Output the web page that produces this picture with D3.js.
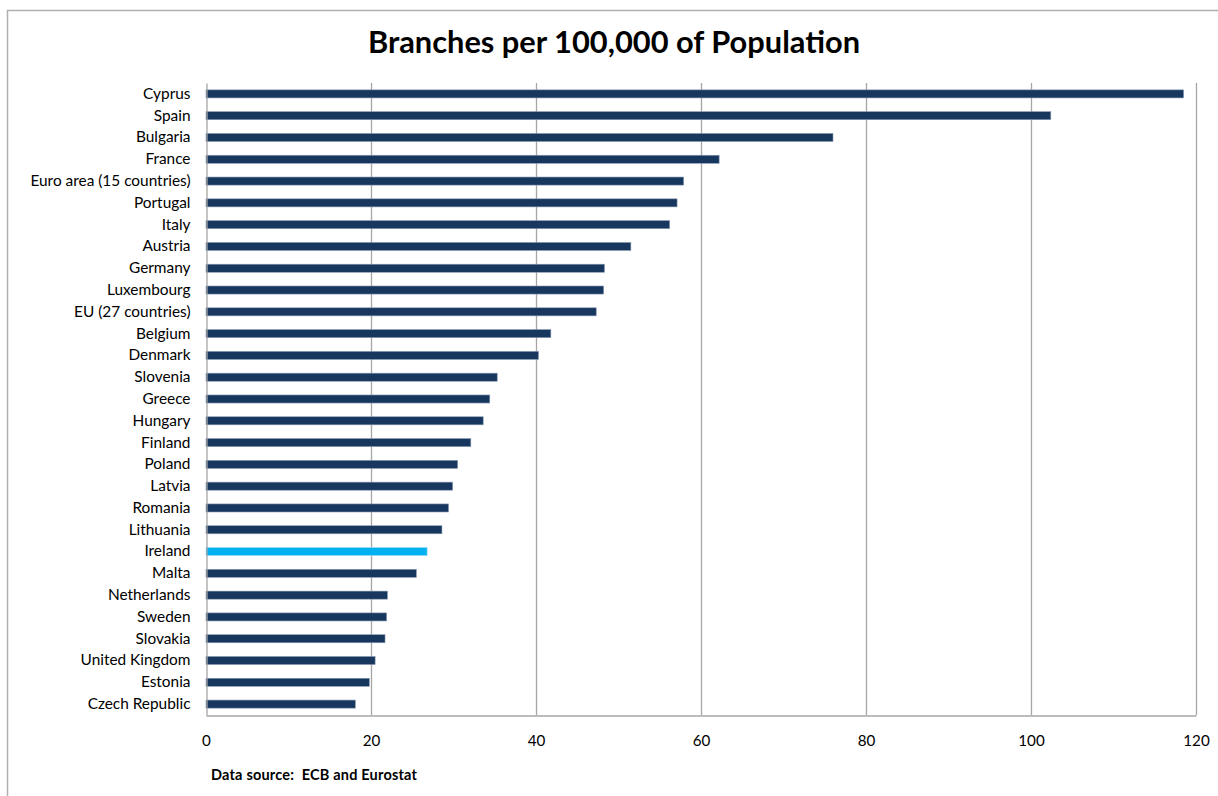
<!DOCTYPE html>
<html>
<head>
<meta charset="utf-8">
<script src="https://cdn.jsdelivr.net/npm/d3@7"></script>
<style>
  html, body { margin: 0; padding: 0; background: #fff; }
  svg { display: block; }
  text { font-family: Lato, "Open Sans", sans-serif; fill: #000; }
</style>
</head>
<body>
<svg id="chart" width="1218" height="796"></svg>
<script>
// Bank branches per 100,000 inhabitants, sorted high to low
const countries = [
  "Cyprus", "Spain", "Bulgaria", "France", "Euro area (15 countries)", "Portugal",
  "Italy", "Austria", "Germany", "Luxembourg", "EU (27 countries)", "Belgium",
  "Denmark", "Slovenia", "Greece", "Hungary", "Finland", "Poland", "Latvia",
  "Romania", "Lithuania", "Ireland", "Malta", "Netherlands", "Sweden",
  "Slovakia", "United Kingdom", "Estonia", "Czech Republic"
];
const branches = [
  118.5, 102.4, 76.0, 62.2, 57.9, 57.1,
  56.2, 51.5, 48.3, 48.2, 47.3, 41.8,
  40.3, 35.3, 34.4, 33.6, 32.1, 30.5, 29.9,
  29.4, 28.6, 26.8, 25.5, 22.0, 21.9,
  21.7, 20.5, 19.8, 18.1
];
const xTicks = [0, 20, 40, 60, 80, 100, 120];
const highlighted = "Ireland";

const titleText = "Branches per 100,000 of Population";
const sourceText = "Data source:  ECB and Eurostat";

const svg = d3.select("#chart");
const plot = { left: 206, right: 1196, top: 83, bottom: 715 };

// outer chart frame
svg.append("path")
  .attr("d", "M7.5,796 V10.5 H1218")
  .attr("fill", "none")
  .attr("stroke", "#b0b0b0")
  .attr("stroke-width", 1.5);

const x = d3.scaleLinear().domain([0, 120]).range([plot.left, plot.right]);
const y = d3.scaleBand().domain(countries).range([plot.top, plot.bottom]).paddingInner(0.63).paddingOuter(0.315);

// vertical gridlines
svg.append("g")
  .selectAll("line")
  .data(xTicks.slice(1))
  .join("line")
  .attr("x1", d => Math.round(x(d)) + 0.5)
  .attr("x2", d => Math.round(x(d)) + 0.5)
  .attr("y1", plot.top)
  .attr("y2", plot.bottom)
  .attr("stroke", "#a6a6a6")
  .attr("stroke-width", 1.3);

// bars
svg.append("g")
  .selectAll("rect")
  .data(countries.map((c, i) => ({ c, v: branches[i] })))
  .join("rect")
  .attr("x", x(0))
  .attr("y", d => y(d.c))
  .attr("width", d => x(d.v) - x(0))
  .attr("height", y.bandwidth())
  .attr("fill", d => d.c === highlighted ? "#00b0f0" : "#17375e")
  .attr("stroke", d => d.c === highlighted ? "#9fdcf5" : "#8a9bb3")
  .attr("stroke-width", 0.6);

// category axis
const yAxis = svg.append("g")
  .attr("transform", `translate(${plot.left + 0.5},0)`)
  .call(d3.axisLeft(y).tickSize(0).tickPadding(16));
yAxis.select(".domain").attr("stroke", "#a6a6a6").attr("stroke-width", 1.3);
yAxis.selectAll("text")
  .style("font-family", "Lato, sans-serif")
  .style("font-size", "15.4px")
  .attr("fill", "#000");

// value axis
const xAxis = svg.append("g")
  .attr("transform", `translate(0,${plot.bottom + 0.5})`)
  .call(d3.axisBottom(x).tickValues(xTicks).tickSize(0).tickPadding(20));
xAxis.select(".domain").attr("stroke", "#a6a6a6").attr("stroke-width", 1.3);
xAxis.selectAll("text")
  .style("font-family", "Lato, sans-serif")
  .style("font-size", "15.2px")
  .attr("fill", "#000");

// title
svg.append("text")
  .attr("x", 614)
  .attr("y", 53)
  .attr("text-anchor", "middle")
  .style("font-size", "30.8px")
  .style("font-weight", "bold")
  .text(titleText);

// source note
svg.append("text")
  .attr("x", 211)
  .attr("y", 780)
  .style("font-size", "14.5px")
  .style("font-weight", "bold")
  .style("letter-spacing", "0.2px")
  .style("white-space", "pre")
  .text(sourceText);
</script>
</body>
</html>
